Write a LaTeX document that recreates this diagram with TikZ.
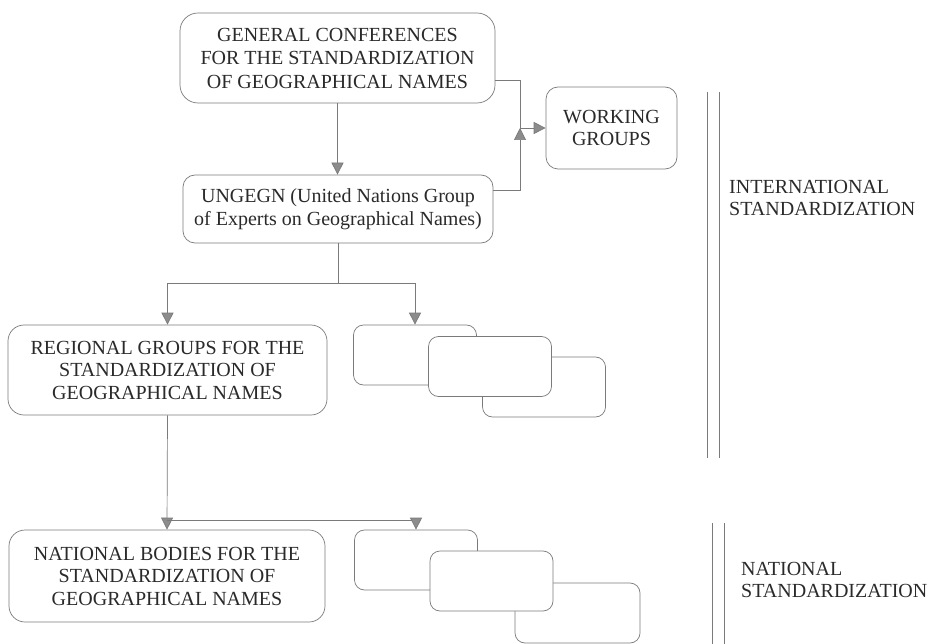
\documentclass[tikz,border=0pt]{standalone}
\usepackage{fontspec}
\setmainfont{Liberation Serif}
\usetikzlibrary{arrows.meta,positioning,calc}
\definecolor{ln}{HTML}{7A7A7A}
\definecolor{tx}{HTML}{2A2A2A}
\definecolor{tipfill}{HTML}{8C8C8C}
\tikzset{
  box/.style={draw=ln, line width=0.7pt, rounded corners=14pt, align=center, text=tx,
    font=\fontsize{20}{22.5}\selectfont, inner sep=0pt, fill=white},
  stackbox/.style={draw=ln, line width=0.7pt, rounded corners=10pt, fill=white,
    minimum width=123pt, minimum height=60pt, inner sep=0pt},
  conn/.style={draw=ln, line width=0.7pt},
  arr/.style={conn, -{Triangle[length=12pt,width=12pt,fill=tipfill]}},
  lbl/.style={text=tx, align=left, anchor=west, inner sep=0pt,
    font=\fontsize{20}{22.5}\selectfont},
  bar/.style={draw=ln, line width=0.7pt}
}
\begin{document}
\begin{tikzpicture}[x=1pt,y=-1pt]
\useasboundingbox (0,0) rectangle (936,644);
% main boxes
\node[box, minimum width=315pt, minimum height=90pt, rounded corners=18pt,
  font=\fontsize{20}{23.5}\selectfont] (gc) at (337.5,58)
  {GENERAL CONFERENCES\\FOR THE STANDARDIZATION\\OF GEOGRAPHICAL NAMES};
\node[box, minimum width=310pt, minimum height=68pt, rounded corners=12pt] (ung) at (338,209)
  {UNGEGN (United Nations Group\\of Experts on Geographical Names)};
\node[box, minimum width=131pt, minimum height=82pt, rounded corners=12pt] (wg) at (611.5,128)
  {WORKING\\GROUPS};
\node[box, minimum width=319pt, minimum height=90pt, rounded corners=16pt] (reg) at (167.5,370)
  {REGIONAL GROUPS FOR THE\\STANDARDIZATION OF\\GEOGRAPHICAL NAMES};
\node[box, minimum width=316pt, minimum height=92pt, rounded corners=16pt] (nat) at (167,576)
  {NATIONAL BODIES FOR THE\\STANDARDIZATION OF\\GEOGRAPHICAL NAMES};
% regional stack
\node[stackbox] (rs1) at (415,355) {};
\node[stackbox] (rs3) at (544,387) {};
\node[stackbox] (rs2) at (490,366.5) {};
% national stack
\node[stackbox] (ns1) at (416,560) {};
\node[stackbox, minimum width=125pt] (ns3) at (577.5,613) {};
\node[stackbox] (ns2) at (491.5,581) {};
% junction coordinates
\coordinate (j) at (520,128);
\coordinate (h1) at (338,283);
\coordinate (h2) at (167,520);
% connectors
\draw[arr] (gc.south) -- (gc.south |- ung.north);
\draw[conn] ([yshift=-22pt]gc.east) -| (j);
\draw[arr] ([yshift=19pt]ung.east) -| (j);
\draw[arr] (j) -- (wg.west);
\draw[conn] (ung.south) -- (h1);
\draw[arr] (h1) -| (reg.north);
\draw[arr] (h1) -| (rs1.north);
\draw[arr] (reg.south) -- (nat.north);
\draw[arr] (h2) -| (ns1.north);
% right side brackets and labels
\draw[bar] (707,92) -- (707,458);
\draw[bar] (719,92) -- (719,458);
\draw[bar] (712,523) -- (712,644);
\draw[bar] (724,523) -- (724,644);
\node[lbl] (intl) at (729,198) {INTERNATIONAL\\STANDARDIZATION};
\node[lbl] (natl) at (741,580) {NATIONAL\\STANDARDIZATION};
\end{tikzpicture}
\end{document}
